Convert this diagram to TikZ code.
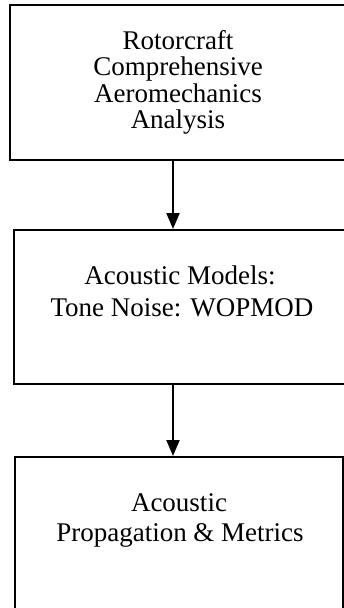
\documentclass[tikz,border=0pt]{standalone}
\usepackage{fontspec}
\setmainfont{Liberation Serif}
\usetikzlibrary{arrows.meta, positioning}
\tikzset{
  every picture/.style={line width=2pt},
  box/.style={draw, align=center, inner sep=0pt, minimum width=#1,
    font=\fontsize{27}{26.5}\selectfont},
  arrow/.style={-{Triangle[length=16pt, width=13pt]}, line width=2pt},
}

\begin{document}
\begin{tikzpicture}[x=1pt, y=-1pt]
  \useasboundingbox (0,0) rectangle (344,608);
  \clip (0,0) rectangle (344,608);
  \node[box=336pt, minimum height=155pt] (rca) at (178,82.5)
    {Rotorcraft\\Comprehensive\\Aeromechanics\\Analysis};
  \node[box=332pt, minimum height=154pt, text depth=32pt,
    below=68pt of rca, xshift=2pt] (acm)
    {Acoustic Models:\hspace{16pt}\\[6pt]\hspace{4pt}Tone Noise: WOPMOD};
  \node[box=328pt, minimum height=153pt, text depth=32pt,
    below=71pt of acm, xshift=-1pt] (prop)
    {Acoustic\hspace{10pt}\\[3pt]\hspace{2pt}Propagation \& Metrics};
  \draw[arrow] ([xshift=-5pt]rca.south) -- ([xshift=-7pt]acm.north);
  \draw[arrow] ([xshift=-7pt]acm.south) -- ([xshift=-6pt]prop.north);
\end{tikzpicture}
\end{document}
